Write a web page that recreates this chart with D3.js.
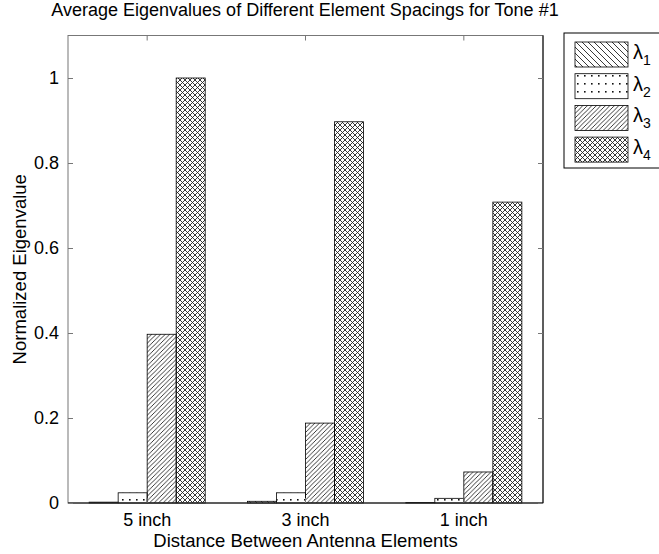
<!DOCTYPE html>
<html>
<head>
<meta charset="utf-8">
<script src="https://cdn.jsdelivr.net/npm/d3@7"></script>
<style>
  body { margin: 0; background: #fff; }
  svg { display: block; font-family: "Liberation Sans", Arial, sans-serif; }
</style>
</head>
<body>
<svg id="chart" width="659" height="554"></svg>
<script>
// data
const spacings = ["5 inch", "3 inch", "1 inch"]
const series = ["λ1", "λ2", "λ3", "λ4"]
const lambda1 = [0.002, 0.004, 0.001]
const lambda2 = [0.024, 0.024, 0.011]
const lambda3 = [0.397, 0.188, 0.073]
const lambda4 = [1.0, 0.897, 0.708]
const yTicks = [0, 0.2, 0.4, 0.6, 0.8, 1]

const values = [lambda1, lambda2, lambda3, lambda4]
const patternIds = ["back", "dots", "fwd", "cross"]

const svg = d3.select('#chart')
const margin = { left: 68, right: 116, top: 35.5, bottom: 51 }
const W = 659, H = 554

const x = d3.scaleBand().domain(spacings)
    .range([margin.left, W - margin.right])
    .paddingInner(0.267).paddingOuter(0.1335)
const xs = d3.scaleBand().domain(series).range([0, x.bandwidth()])
const y = d3.scaleLinear().domain([0, 1.1]).range([H - margin.bottom, margin.top])

// hatch patterns
const defs = svg.append('defs')
let p = defs.append('pattern').attr('id', 'back').attr('patternUnits', 'userSpaceOnUse')
    .attr('width', 6).attr('height', 6)
p.append('path').attr('d', 'M-1,-1 L7,7 M-1,5 L1,7 M5,-1 L7,1')
    .attr('stroke', '#222').attr('stroke-width', 0.9)

p = defs.append('pattern').attr('id', 'dots').attr('patternUnits', 'userSpaceOnUse')
    .attr('width', 7).attr('height', 8)
p.append('rect').attr('x', 3).attr('y', 3).attr('width', 1.6).attr('height', 1.6).attr('fill', '#111')

p = defs.append('pattern').attr('id', 'fwd').attr('patternUnits', 'userSpaceOnUse')
    .attr('width', 4.5).attr('height', 4.5)
p.append('path').attr('d', 'M-1,5.5 L5.5,-1 M-1,1 L1,-1 M3.5,5.5 L5.5,3.5')
    .attr('stroke', '#222').attr('stroke-width', 0.9)

p = defs.append('pattern').attr('id', 'cross').attr('patternUnits', 'userSpaceOnUse')
    .attr('width', 5).attr('height', 5)
p.append('path').attr('d', 'M-1,-1 L6,6 M-1,6 L6,-1')
    .attr('stroke', '#222').attr('stroke-width', 0.9)

// bars
series.forEach(function (s, i) {
    svg.append('g').selectAll('rect')
        .data(values[i])
        .enter()
        .append('rect')
        .attr('x', function (d, j) { return x(spacings[j]) + xs(s) })
        .attr('y', function (d) { return y(d) })
        .attr('width', xs.bandwidth())
        .attr('height', function (d) { return y(0) - y(d) })
        .attr('fill', 'url(#' + patternIds[i] + ')')
        .attr('stroke', '#000').attr('stroke-width', 0.8)
})

// axes box
const x0 = margin.left, x1 = W - margin.right, y0 = y(0), yTop = margin.top
const axisColor = '#777'
svg.append('rect').attr('x', x0).attr('y', yTop).attr('width', x1 - x0).attr('height', y0 - yTop)
    .attr('fill', 'none').attr('stroke', axisColor).attr('stroke-width', 1)
svg.append('line').attr('x1', x0).attr('x2', x1).attr('y1', y0).attr('y2', y0)
    .attr('stroke', '#000').attr('stroke-width', 1.2)
svg.append('line').attr('x1', x1).attr('x2', x1).attr('y1', yTop).attr('y2', y0)
    .attr('stroke', '#000').attr('stroke-width', 1)

const yAxisL = d3.axisLeft(y).tickValues(yTicks).tickSizeInner(-5).tickSizeOuter(0)
    .tickPadding(9).tickFormat(d3.format('~g'))
const gl = svg.append('g').attr('transform', 'translate(' + x0 + ',0)').call(yAxisL)
gl.select('.domain').remove()
gl.selectAll('line').attr('stroke', axisColor)
gl.selectAll('text').attr('font-size', 18).attr('fill', '#000')

const gr = svg.append('g').attr('transform', 'translate(' + x1 + ',0)')
    .call(d3.axisRight(y).tickValues(yTicks).tickSizeInner(-5).tickSizeOuter(0).tickFormat(''))
gr.select('.domain').remove()
gr.selectAll('line').attr('stroke', axisColor)

const xAxisB = d3.axisBottom(x).tickSizeInner(-5).tickSizeOuter(0).tickPadding(10)
const gb = svg.append('g').attr('transform', 'translate(0,' + y0 + ')').call(xAxisB)
gb.select('.domain').remove()
gb.selectAll('line').attr('stroke', axisColor)
gb.selectAll('text').attr('font-size', 18).attr('fill', '#000')

const gt = svg.append('g').attr('transform', 'translate(0,' + yTop + ')')
    .call(d3.axisTop(x).tickSizeInner(-5).tickSizeOuter(0).tickFormat(''))
gt.select('.domain').remove()
gt.selectAll('line').attr('stroke', axisColor)

// labels
svg.append('text').attr('x', 305).attr('y', 16)
    .attr('text-anchor', 'middle').attr('font-size', 18)
    .text('Average Eigenvalues of Different Element Spacings for Tone #1')
svg.append('text').attr('x', (x0 + x1) / 2).attr('y', 547)
    .attr('text-anchor', 'middle').attr('font-size', 18.5)
    .text('Distance Between Antenna Elements')
svg.append('text').attr('transform', 'translate(26,' + ((y0 + yTop) / 2) + ') rotate(-90)')
    .attr('text-anchor', 'middle').attr('font-size', 18.5)
    .text('Normalized Eigenvalue')

// legend
const leg = svg.append('g')
leg.append('rect').attr('x', 564).attr('y', 33).attr('width', 100).attr('height', 135)
    .attr('fill', '#fff').attr('stroke', '#000').attr('stroke-width', 1)
series.forEach(function (s, i) {
    const ly = 42 + i * 31.7
    leg.append('rect').attr('x', 575).attr('y', ly).attr('width', 53).attr('height', 25)
        .attr('fill', 'url(#' + patternIds[i] + ')').attr('stroke', '#000').attr('stroke-width', 0.8)
    const t = leg.append('text').attr('x', 633).attr('y', ly + 17).attr('font-size', 20)
    t.append('tspan').text('λ')
    t.append('tspan').attr('font-size', 14).attr('dy', 6).text(s.slice(1))
})
</script>
</body>
</html>
